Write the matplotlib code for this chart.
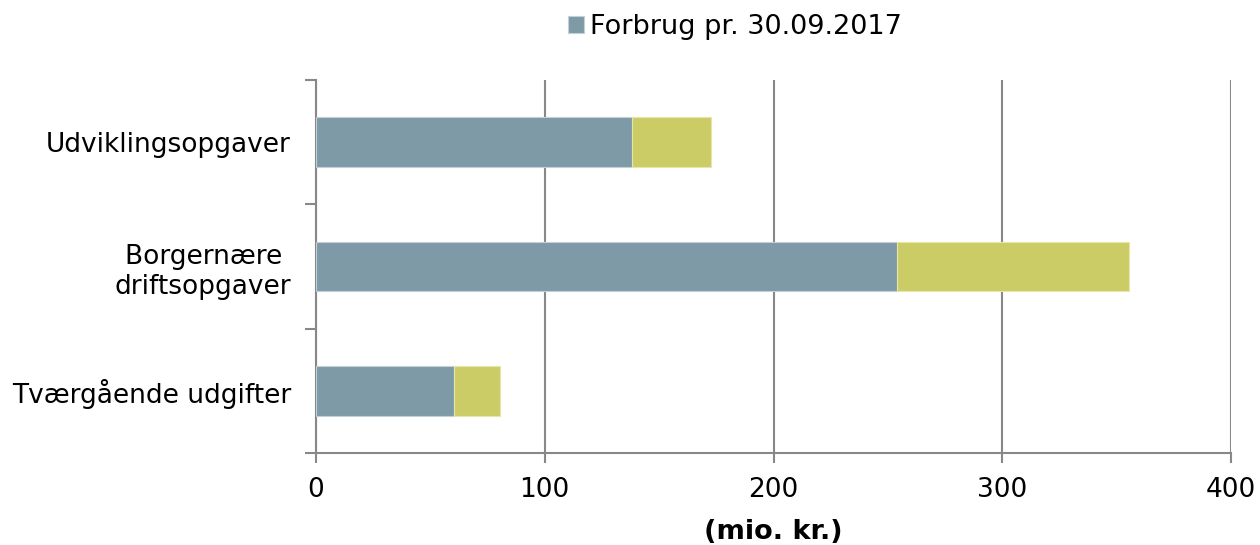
import matplotlib.pyplot as plt
import numpy as np

categories = ["Tværgående udgifter", "Borgernære \ndriftsopgaver", "Udviklingsopgaver"]
forbrug = [60.3, 254.0, 138.1]
rest = [20.0, 101.2, 34.4]
legend_label = "Forbrug pr. 30.09.2017"
xticks = [0, 100, 200, 300, 400]
xlabel = "(mio. kr.)"

plt.rcParams['font.family'] = ['DejaVu Sans']
fig = plt.figure(figsize=(12.6, 5.45), dpi=100)
ax = fig.add_axes([316/1260, 1-453/545, (1231-316)/1260, (453-80)/545])

y = np.arange(len(categories))
c1 = "#7F9AA7"
c2 = "#CCCC66"
b1 = ax.barh(y, forbrug, height=0.4, color=c1, edgecolor="#C4D0D5", linewidth=0.8, label=legend_label, zorder=3)
ax.barh(y, rest, left=forbrug, height=0.4, color=c2, edgecolor="#E6E6A8", linewidth=0.8, zorder=3)

ax.set_xlim(0, 400)
ax.set_ylim(-0.5, 2.5)
ax.set_xticks(xticks)
ax.set_xticklabels([str(v) for v in xticks], fontsize=19)
ax.set_yticks(y)
ax.set_yticklabels(categories, fontsize=19)
ax.tick_params(axis='y', length=0, pad=18)
ax.set_yticks([-0.5, 0.5, 1.5, 2.5], minor=True)
ax.tick_params(axis='y', which='minor', length=8, color="#888888", width=1.5)
ax.tick_params(axis='x', length=7, color="#888888", width=1.5, pad=10)

ax.grid(axis='x', color="#888888", linewidth=1.5, zorder=0)
for s in ['top', 'right']:
    ax.spines[s].set_visible(False)
for s in ['left', 'bottom']:
    ax.spines[s].set_color("#888888")
    ax.spines[s].set_linewidth(1.5)

ax.set_xlabel(xlabel, fontsize=19.5, fontweight='bold', labelpad=12)

fig.legend(handles=[b1], labels=[legend_label], loc='center', bbox_to_anchor=(735/1260, 1-27/545),
           frameon=False, fontsize=19.5, handlelength=0.6, handleheight=0.6, handletextpad=0.2)

fig.savefig("out.png", dpi=100)
